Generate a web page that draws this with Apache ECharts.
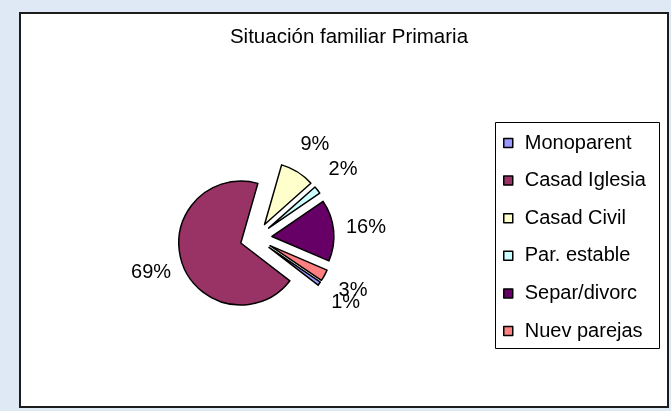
<!DOCTYPE html>
<html>
<head>
<meta charset="utf-8">
<script src="https://cdn.jsdelivr.net/npm/echarts@6/dist/echarts.min.js"></script>
<style>
  html, body { margin: 0; padding: 0; }
  body { width: 671px; height: 411px; background: #dfe9f5; position: relative; overflow: hidden; }
  #frame {
    position: absolute; left: 19px; top: 12px; width: 646px; height: 392px;
    border: 2px solid #1c1c1c; background: #fff;
  }
  #chart { position: absolute; left: 0; top: 0; width: 671px; height: 411px; }
</style>
</head>
<body>
<div id="frame"></div>
<div id="chart"></div>
<script>
// categorias y porcentajes
const categories = ['Monoparent', 'Casad Iglesia', 'Casad Civil', 'Par. estable', 'Separ/divorc', 'Nuev parejas'];
const percents = [1, 69, 9, 2, 16, 3];
const colors = ['#9999ff', '#993366', '#ffffcc', '#ccffff', '#660066', '#ff8080'];

const font = 'Liberation Sans, Arial, sans-serif';
const pieCenter = [256, 238];

let el = document.getElementById('chart');
echarts.init(el).setOption({
  animation: false,
  title: {
    text: 'Situación familiar Primaria',
    left: 344,
    textAlign: 'center',
    top: 22,
    textStyle: { fontFamily: font, fontSize: 20.5, fontWeight: 'normal', color: '#000' }
  },
  legend: {
    orient: 'vertical',
    left: 498,
    top: 128,
    icon: 'rect',
    itemWidth: 9,
    itemHeight: 9,
    itemGap: 17.6,
    selectedMode: false,
    itemStyle: { borderColor: '#000', borderWidth: 1.5 },
    textStyle: { fontFamily: font, fontSize: 20, lineHeight: 20, color: '#000', padding: [0, 0, 0, 7] },
    data: categories
  },
  graphic: [{
    type: 'rect',
    shape: { x: 495.5, y: 122.5, width: 164, height: 226 },
    style: { fill: null, stroke: '#000', lineWidth: 1 }
  }],
  series: [{
    // tarta explotada
    name: 'Situación familiar',
    type: 'pie',
    center: pieCenter,
    radius: 62,
    startAngle: -34,
    clockwise: true,
    selectedMode: 'multiple',
    selectedOffset: 16,
    emphasis: { disabled: true },
    select: { itemStyle: { borderColor: '#000', borderWidth: 1.5 } },
    itemStyle: { borderColor: '#000', borderWidth: 1.5 },
    label: { show: false },
    labelLine: { show: false },
    data: categories.map((name, i) => ({
      name: name,
      value: percents[i],
      selected: true,
      itemStyle: { color: colors[i] }
    }))
  }, {
    // anillo invisible solo para colocar las etiquetas centradas fuera (como Excel)
    name: 'etiquetas',
    type: 'pie',
    center: pieCenter,
    radius: [62, 121],
    startAngle: -34,
    clockwise: true,
    silent: true,
    selectedMode: 'multiple',
    selectedOffset: 16,
    avoidLabelOverlap: false,
    labelLayout: { hideOverlap: false },
    emphasis: { disabled: true },
    itemStyle: { color: 'rgba(0,0,0,0)', borderWidth: 0 },
    select: { itemStyle: { color: 'rgba(0,0,0,0)', borderWidth: 0 } },
    label: {
      show: true,
      position: 'inside',
      formatter: '{d}%',
      fontFamily: font,
      fontSize: 20,
      color: '#000'
    },
    labelLine: { show: false },
    data: categories.map((name, i) => ({
      name: name,
      value: percents[i],
      selected: true
    }))
  }]
});
</script>
</body>
</html>
